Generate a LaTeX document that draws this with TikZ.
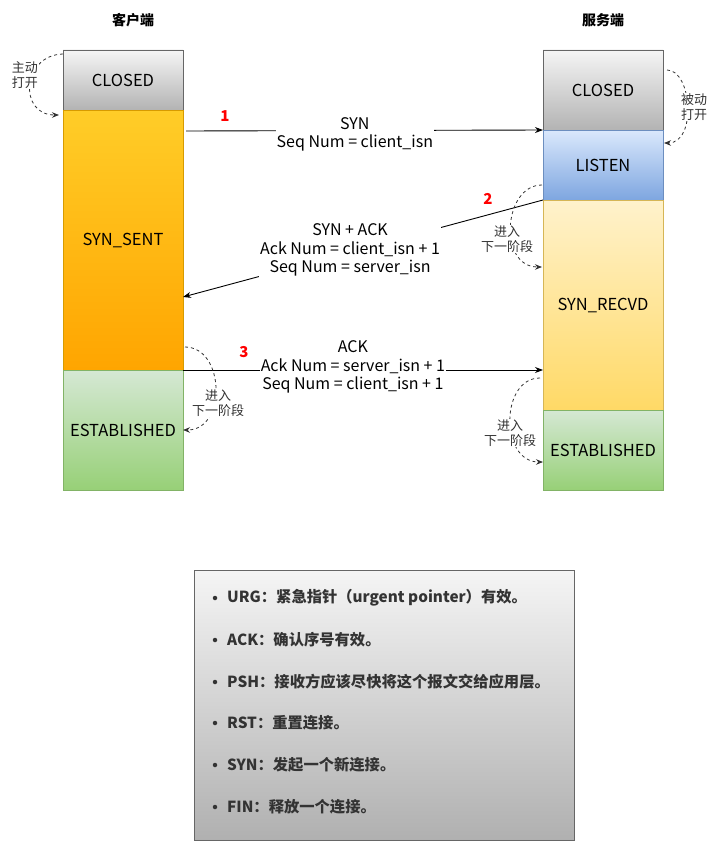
\documentclass[tikz,border=0pt]{standalone}
\usepackage{fontspec}
\setmainfont{Noto Sans CJK SC}
\usetikzlibrary{arrows.meta,calc}
\definecolor{grayT}{HTML}{F5F5F5}
\definecolor{grayB}{HTML}{B3B3B3}
\definecolor{grayS}{HTML}{666666}
\definecolor{orT}{HTML}{FFCD28}
\definecolor{orB}{HTML}{FFA500}
\definecolor{orS}{HTML}{D79B00}
\definecolor{grT}{HTML}{D5E8D4}
\definecolor{grB}{HTML}{97D077}
\definecolor{grS}{HTML}{82B366}
\definecolor{blT}{HTML}{DAE8FC}
\definecolor{blB}{HTML}{7EA6E0}
\definecolor{blS}{HTML}{6C8EBF}
\definecolor{yeT}{HTML}{FFF2CC}
\definecolor{yeB}{HTML}{FFD966}
\definecolor{yeS}{HTML}{D6B656}
\definecolor{dgray}{HTML}{333333}
\definecolor{lgT}{HTML}{F5F5F5}
\definecolor{lgB}{HTML}{B0B0B0}
\begin{document}
\begin{tikzpicture}[x=1pt,y=-1pt,
  statebox/.style={draw, inner sep=0pt, outer sep=0pt, minimum width=120pt, line width=0.8pt, font=\fontsize{16.5}{19}\selectfont},
  arr/.style={-{Stealth[length=8pt,width=6pt]}, line width=0.9pt, black},
  lbl/.style={fill=white, align=center, inner sep=1pt, font=\fontsize{16}{18.5}\selectfont},
  phase/.style={dash pattern=on 3pt off 3pt, draw=dgray, line width=0.8pt, -{Stealth[length=7pt,width=5.5pt]}},
  small/.style={fill=white, align=center, inner sep=0.5pt, text=dgray, font=\fontsize{13}{15.5}\selectfont},
  num/.style={text=red, font=\bfseries\fontsize{15}{18}\selectfont},
  title/.style={font=\bfseries\fontsize{14}{17}\selectfont},
  item/.style={anchor=west, inner sep=0pt, text=dgray, font=\bfseries\fontsize{15.3}{18}\selectfont},
  bullet/.style={circle, fill=dgray, inner sep=0pt, minimum size=4.5pt}]
\useasboundingbox (0,0) rectangle (718,851);

% titles
\node[title] (tc) at (133,20) {客户端};
\node[title] (ts) at (603,20) {服务端};

% client column
\node[statebox, top color=grayT, bottom color=grayB, draw=grayS, minimum height=60pt] (cclosed) at (123,80) {CLOSED};
\node[statebox, top color=orT, bottom color=orB, draw=orS, minimum height=260pt] (csent) at (123,240) {SYN\_SENT};
\node[statebox, top color=grT, bottom color=grB, draw=grS, minimum height=120pt] (cest) at (123,430) {ESTABLISHED};

% server column
\node[statebox, top color=grayT, bottom color=grayB, draw=grayS, minimum height=80pt] (sclosed) at (603,90) {CLOSED};
\node[statebox, top color=blT, bottom color=blB, draw=blS, minimum height=70pt] (slisten) at (603,165) {LISTEN};
\node[statebox, top color=yeT, bottom color=yeB, draw=yeS, minimum height=210pt] (srecvd) at (603,305) {SYN\_RECVD};
\node[statebox, top color=grT, bottom color=grB, draw=grS, minimum height=80pt] (sest) at (603,450) {ESTABLISHED};

% messages
\draw[arr] ($(csent.north east)+(3,21)$) -- node[lbl, pos=0.473, yshift=-4pt] (l1) {SYN\\Seq Num = client\_isn} (slisten.north west);
\draw[arr] (slisten.south west) -- node[lbl, pos=0.536, yshift=2pt] (l2) {SYN + ACK\\Ack Num = client\_isn + 1\\Seq Num = server\_isn} ($(csent.south east)+(0,-73)$);
\draw[arr] (csent.south east) -- node[lbl, pos=0.472, yshift=3pt] (l3) {ACK\\Ack Num = server\_isn + 1\\Seq Num = client\_isn + 1} (csent.south east -| srecvd.west);

\node[num] (n1) at (225,116) {1};
\node[num] (n2) at (488,199) {2};
\node[num] (n3) at (244,352) {3};

% phase transitions
\draw[phase] ($(cclosed.north west)+(0,4)$) .. controls (22,55) and (18,115) .. ($(csent.north west)+(-4,5)$);
\node[small] (p1) at (25,75) {主动\\打开};

\draw[phase] ($(sclosed.north east)+(4,20)$) .. controls (692,70) and (697,143) .. ($(slisten.north east)+(1,13)$);
\node[small] (p2) at (694,107) {被动\\打开};

\draw[phase] ($(slisten.south west)+(-1,-15)$) .. controls (503,185) and (498,267) .. ($(srecvd.north west)+(-1,67)$);
\node[small] (p3) at (507,239) {进入\\下一阶段};

\draw[phase] ($(csent.south east)+(2,-23)$) .. controls (225,347) and (227,430) .. ($(cest.east)+(0,0)$);
\node[small] (p4) at (218,403) {进入\\下一阶段};

\draw[phase] ($(srecvd.south west)+(-3,-32)$) .. controls (500,378) and (500,462) .. ($(sest.west)+(0,12)$);
\node[small] (p5) at (510,433) {进入\\下一阶段};

% legend
\node[draw=grayS, top color=lgT, bottom color=lgB, line width=0.8pt, minimum width=380pt, minimum height=270pt, inner sep=0pt] (legend) at (384,705) {};
\foreach \i/\y/\t in {a/598/{URG：紧急指针（urgent pointer）有效。},
                      b/640/{ACK：确认序号有效。},
                      c/682/{PSH：接收方应该尽快将这个报文交给应用层。},
                      d/723/{RST：重置连接。},
                      e/765/{SYN：发起一个新连接。},
                      f/807/{FIN：释放一个连接。}}{
  \node[bullet] (b\i) at (215,\y) {};
  \node[item] (t\i) at (227,\y) {\t};
}
\end{tikzpicture}
\end{document}
